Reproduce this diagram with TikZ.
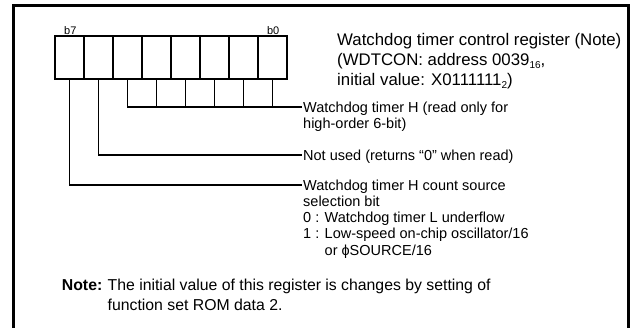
\documentclass[tikz,border=0pt]{standalone}
\usepackage{fontspec}
\setmainfont{Liberation Sans}
\usetikzlibrary{positioning}
\newcommand{\radix}[1]{\raisebox{-0.3ex}{\fontsize{10}{10}\selectfont #1}}

\begin{document}
\begin{tikzpicture}[
    x=1pt, y=-1pt,
    cell/.style={rectangle, draw, line width=1.8pt, minimum width=29pt, minimum height=43pt, inner sep=0pt},
    wire/.style={line width=1.8pt},
    frame/.style={line width=3pt},
    lbl/.style={anchor=north west, inner sep=0pt, align=left, font=\fontsize{14.5}{16.2}\selectfont},
    title/.style={anchor=north west, inner sep=0pt, align=left, font=\fontsize{16.8}{19.8}\selectfont},
    notetxt/.style={anchor=north west, inner sep=0pt, align=left, font=\fontsize{15.8}{20}\selectfont},
    bitno/.style={anchor=base west, inner sep=0pt, font=\fontsize{11}{11}\selectfont}
]
\useasboundingbox (0,0) rectangle (631,327);
\draw[frame] (13.5,332) |- (628.5,5) -- (628.5,332);

% register bits b7 .. b0
\foreach \i in {7,...,0}
  \node[cell] (b\i) at ({69.5+29*(7-\i)},57.5) {};
\node[bitno] (b7no) at (64,34) {b7};
\node[bitno, anchor=base east] (b0no) at (279.5,34) {b0};

\node[title] (regname) at (337,33.5) {Watchdog timer control register (Note)\\(WDTCON: address 0039\radix{16},\\initial value: X0111111\radix{2})};

% bit fields
\coordinate (hbus) at (0,107);
\coordinate (hend) at (302,107);
\coordinate (nuend) at (302,155);
\coordinate (srcend) at (302,185);
\foreach \i in {4,...,0}
  \draw[wire] (b\i.south) -- (b\i.south |- hbus);
\draw[wire] (b5.south) |- (hend);
\draw[wire] (b6.south) |- (nuend);
\draw[wire] (b7.south) |- (srcend);

\node[lbl] (hlbl) at (303,101.5) {Watchdog timer H (read only for\\high-order 6-bit)};
\node[lbl] (nulbl) at (303,149.5) {Not used (returns “0” when read)};
\node[lbl] (srclbl) at (303,179.5) {Watchdog timer H count source\\selection bit\\0 : Watchdog timer L underflow\\1 : Low-speed on-chip oscillator/16\\\hphantom{1 : }or ϕSOURCE/16};

% note
\node[notetxt] (notebody) at (107.5,279) {The initial value of this register is changes by setting of\\function set ROM data 2.};
\node[notetxt, anchor=north east, font=\fontsize{15.8}{20}\selectfont\bfseries] (notehead) at ([xshift=-5pt]notebody.north west) {Note:};
\end{tikzpicture}
\end{document}
